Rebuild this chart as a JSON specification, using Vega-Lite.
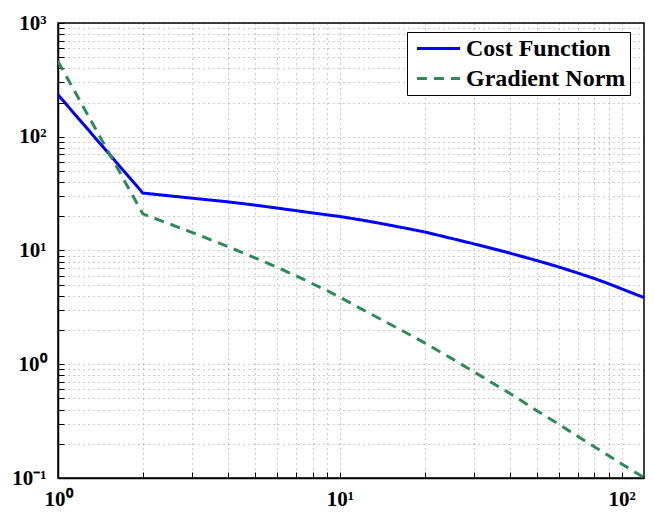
{
  "$schema": "https://vega.github.io/schema/vega-lite/v6.json",
  "width": 586,
  "height": 455,
  "autosize": {"type": "none"},
  "padding": {"left": 58, "top": 23, "right": 10, "bottom": 40},
  "background": "white",
  "data": {
    "values": [
      {"x": 1, "y": 234, "series": "Cost Function"},
      {"x": 2, "y": 32, "series": "Cost Function"},
      {"x": 3, "y": 28.8, "series": "Cost Function"},
      {"x": 4, "y": 26.8, "series": "Cost Function"},
      {"x": 5, "y": 25.05, "series": "Cost Function"},
      {"x": 6, "y": 23.6, "series": "Cost Function"},
      {"x": 7, "y": 22.4, "series": "Cost Function"},
      {"x": 8, "y": 21.4, "series": "Cost Function"},
      {"x": 10, "y": 19.9, "series": "Cost Function"},
      {"x": 12, "y": 18.5, "series": "Cost Function"},
      {"x": 14, "y": 17.27, "series": "Cost Function"},
      {"x": 17, "y": 15.76, "series": "Cost Function"},
      {"x": 20, "y": 14.55, "series": "Cost Function"},
      {"x": 25, "y": 12.74, "series": "Cost Function"},
      {"x": 30, "y": 11.41, "series": "Cost Function"},
      {"x": 35, "y": 10.36, "series": "Cost Function"},
      {"x": 40, "y": 9.5, "series": "Cost Function"},
      {"x": 50, "y": 8.16, "series": "Cost Function"},
      {"x": 60, "y": 7.15, "series": "Cost Function"},
      {"x": 70, "y": 6.33, "series": "Cost Function"},
      {"x": 80, "y": 5.67, "series": "Cost Function"},
      {"x": 90, "y": 5.1, "series": "Cost Function"},
      {"x": 100, "y": 4.6, "series": "Cost Function"},
      {"x": 110, "y": 4.19, "series": "Cost Function"},
      {"x": 120, "y": 3.86, "series": "Cost Function"},
      {"x": 1, "y": 460, "series": "Gradient Norm"},
      {"x": 2, "y": 21, "series": "Gradient Norm"},
      {"x": 3, "y": 14.38, "series": "Gradient Norm"},
      {"x": 4, "y": 10.85, "series": "Gradient Norm"},
      {"x": 5, "y": 8.62, "series": "Gradient Norm"},
      {"x": 6, "y": 7.09, "series": "Gradient Norm"},
      {"x": 7, "y": 5.99, "series": "Gradient Norm"},
      {"x": 8, "y": 5.1, "series": "Gradient Norm"},
      {"x": 9, "y": 4.45, "series": "Gradient Norm"},
      {"x": 10, "y": 3.88, "series": "Gradient Norm"},
      {"x": 12, "y": 3.04, "series": "Gradient Norm"},
      {"x": 14, "y": 2.48, "series": "Gradient Norm"},
      {"x": 17, "y": 1.92, "series": "Gradient Norm"},
      {"x": 20, "y": 1.54, "series": "Gradient Norm"},
      {"x": 25, "y": 1.12, "series": "Gradient Norm"},
      {"x": 30, "y": 0.853, "series": "Gradient Norm"},
      {"x": 35, "y": 0.677, "series": "Gradient Norm"},
      {"x": 40, "y": 0.557, "series": "Gradient Norm"},
      {"x": 50, "y": 0.391, "series": "Gradient Norm"},
      {"x": 60, "y": 0.295, "series": "Gradient Norm"},
      {"x": 70, "y": 0.232, "series": "Gradient Norm"},
      {"x": 80, "y": 0.188, "series": "Gradient Norm"},
      {"x": 90, "y": 0.157, "series": "Gradient Norm"},
      {"x": 100, "y": 0.133, "series": "Gradient Norm"},
      {"x": 110, "y": 0.115, "series": "Gradient Norm"},
      {"x": 120, "y": 0.101, "series": "Gradient Norm"}
    ]
  },
  "mark": {"type": "line", "strokeWidth": 3, "clip": true},
  "encoding": {
    "x": {
      "field": "x",
      "type": "quantitative",
      "scale": {"type": "log", "domain": [1, 120], "nice": false},
      "axis": {
        "title": null,
        "values": [1, 2, 3, 4, 5, 6, 7, 8, 9, 10, 20, 30, 40, 50, 60, 70, 80, 90, 100],
        "labelExpr": "datum.value == 1 ? '10⁰' : datum.value == 10 ? '10¹' : datum.value == 100 ? '10²' : ''",
        "labelOverlap": false,
        "labelFlush": false,
        "labelPadding": 16
      }
    },
    "y": {
      "field": "y",
      "type": "quantitative",
      "scale": {"type": "log", "domain": [0.1, 1000], "nice": false},
      "axis": {
        "title": null,
        "values": [0.1, 0.2, 0.3, 0.4, 0.5, 0.6, 0.7, 0.8, 0.9, 1, 2, 3, 4, 5, 6, 7, 8, 9, 10, 20, 30, 40, 50, 60, 70, 80, 90, 100, 200, 300, 400, 500, 600, 700, 800, 900, 1000],
        "labelExpr": "datum.value == 0.1 ? '10⁻¹' : datum.value == 1 ? '10⁰' : datum.value == 10 ? '10¹' : datum.value == 100 ? '10²' : datum.value == 1000 ? '10³' : ''",
        "labelOverlap": false,
        "labelFlush": false,
        "labelPadding": 18
      }
    },
    "color": {
      "field": "series",
      "type": "nominal",
      "scale": {"domain": ["Cost Function", "Gradient Norm"], "range": ["#0000ff", "#2e8b57"]},
      "legend": {
        "title": null,
        "orient": "none",
        "legendX": 349,
        "legendY": 9,
        "symbolType": "M-2,0H2",
        "symbolSize": 462,
        "symbolStrokeWidth": 3,
        "symbolOffset": 15,
        "labelFontSize": 24,
        "labelFont": "Liberation Serif",
        "labelFontWeight": "bold",
        "labelColor": "black",
        "labelOffset": 15,
        "fillColor": "white",
        "strokeColor": "black",
        "padding": 4,
        "rowPadding": 5
      }
    },
    "strokeDash": {
      "field": "series",
      "type": "nominal",
      "scale": {"domain": ["Cost Function", "Gradient Norm"], "range": [[1, 0], [10, 7]]},
      "legend": null
    }
  },
  "config": {
    "view": {"stroke": "black", "strokeWidth": 1.5},
    "axis": {
      "domainColor": "black",
      "domainWidth": 1.5,
      "tickColor": "black",
      "tickSize": -6,
      "tickWidth": 1,
      "grid": true,
      "gridColor": "#000000",
      "gridOpacity": 0.4,
      "gridDash": [1, 4],
      "gridWidth": 1,
      "labelFont": "Liberation Serif",
      "labelFontWeight": "bold",
      "labelFontSize": 21,
      "labelColor": "black"
    }
  }
}
